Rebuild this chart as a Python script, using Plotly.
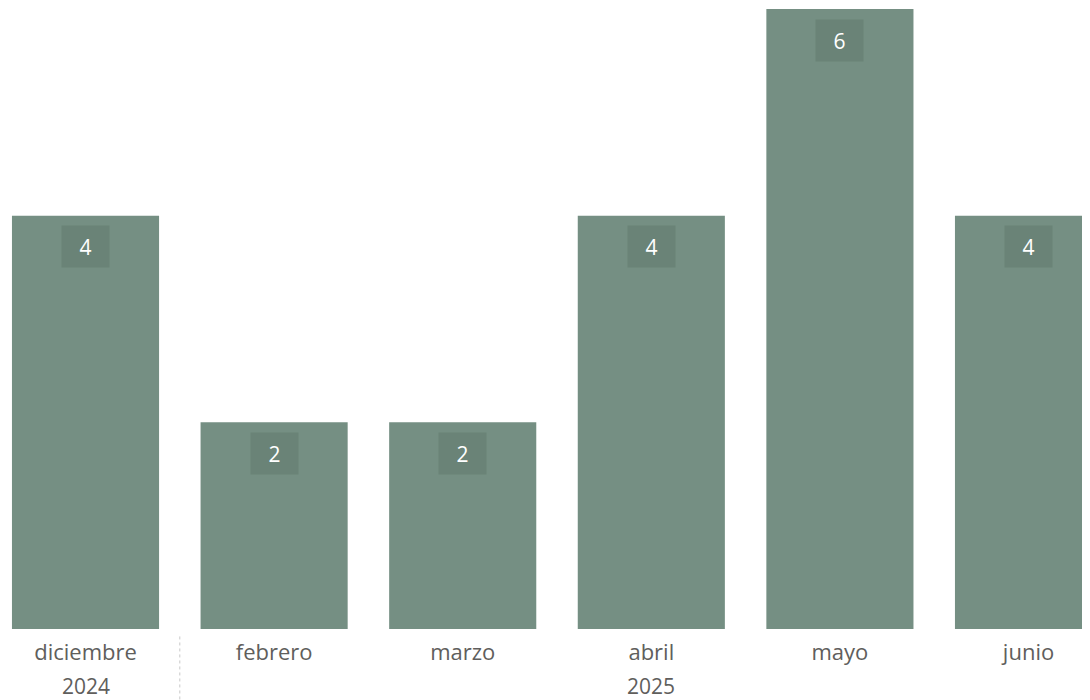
import plotly.graph_objects as go

# =====================================================
# DATA
# =====================================================

months = ["diciembre", "febrero", "marzo", "abril", "mayo", "junio"]
counts = [4, 2, 2, 4, 6, 4]
year_labels = {0: "2024", 3: "2025"}

BAR_COLOR = "#758f83"
BOX_COLOR = "#6a8377"
TEXT_COLOR = "#605e5c"
FONT = "Open Sans, Segoe UI, sans-serif"

# =====================================================
# BARS
# =====================================================

x_pos = list(range(len(months)))

fig = go.Figure(
    go.Bar(
        x=x_pos,
        y=counts,
        marker_color=BAR_COLOR,
        marker_line_width=0,
        hoverinfo="skip"
    )
)

# value labels in a darker box near top of each bar
for i, v in zip(x_pos, counts):
    fig.add_annotation(
        x=i,
        y=v,
        yref="y",
        yanchor="middle",
        yshift=-31,
        text=str(v),
        showarrow=False,
        bgcolor=BOX_COLOR,
        width=45,
        height=39,
        font=dict(family=FONT, size=21, color="white")
    )

# year under first month of each year
for i, yr in year_labels.items():
    fig.add_annotation(
        x=i,
        y=0,
        yref="paper",
        yanchor="middle",
        yshift=-57,
        text=yr,
        showarrow=False,
        font=dict(family=FONT, size=21, color=TEXT_COLOR)
    )

# dotted separator between years
fig.add_shape(
    type="line",
    x0=0.5,
    x1=0.5,
    y0=-0.012,
    y1=-0.12,
    yref="paper",
    line=dict(color="#c8c8c8", width=1, dash="dot")
)

fig.update_xaxes(
    tickvals=x_pos,
    ticktext=months,
    range=[-0.411, 5.326],
    showgrid=False,
    zeroline=False,
    showline=False,
    ticks="",
    ticklabelstandoff=8,
    tickfont=dict(family=FONT, size=22, color=TEXT_COLOR)
)

fig.update_yaxes(
    range=[0, 6.01],
    visible=False
)

fig.update_layout(
    width=1082,
    height=692,
    margin=dict(l=0, r=0, t=0, b=71),
    bargap=0.22,
    plot_bgcolor="white",
    paper_bgcolor="white",
    showlegend=False
)

fig.write_html("out.html")
